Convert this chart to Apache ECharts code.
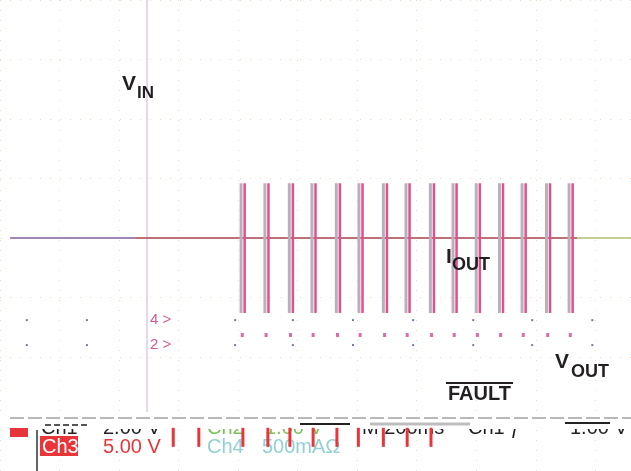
<!DOCTYPE html>
<html>
<head>
<meta charset="utf-8">
<script src="https://cdn.jsdelivr.net/npm/echarts@6/dist/echarts.min.js"></script>
<style>
    html, body {margin: 0; padding: 0; background: #fff;}
    #main {width: 631px; height: 471px;}
</style>
</head>
<body>
<div id="main"></div>
<script>
// screen units are scope divisions (1 div = 59.5 px), y counted down from the top edge
const pulseX = [4.05, 4.45, 4.86, 5.24, 5.65, 6.03, 6.44, 6.82, 7.23, 7.61, 8.00, 8.39, 8.77, 9.18, 9.56];
const pulseLevels = [3.08, 5.26];          // top / bottom of each output pulse
const outputLag = 0.06;                    // magenta trace sits just right of the grey one
const faultX = [2.91, 3.34, 4.08, 4.50, 4.87, 5.26, 5.66, 6.02, 6.44, 6.84, 7.24];
const faultLevels = [7.19, 7.51];
const faultDotLevel = 5.63;
const markX = [0.45, 1.46, 3.95, 4.92, 5.93, 6.94, 7.95, 8.94, 9.95];
const markLevels = [5.38, 5.80];
const vinX = 2.47;
const vinSpan = [0, 6.97];
const baseLevel = 4.0;
const baseSegments = [[0.17, 2.27], [2.27, 9.70], [9.70, 10.6]];

const chart = echarts.init(document.getElementById('main'));

function pulse(color, width) {
    return function (params, api) {
        const a = api.coord([api.value(0), api.value(1)]);
        const b = api.coord([api.value(0), api.value(2)]);
        return {
            type: 'line',
            shape: {x1: a[0], y1: a[1], x2: b[0], y2: b[1]},
            style: {stroke: color, lineWidth: width}
        };
    };
}

function segLine(seg, color) {
    return {
        type: 'line',
        data: [[seg[0], baseLevel], [seg[1], baseLevel]],
        symbol: 'none',
        lineStyle: {color: color, width: 1.5},
        silent: true,
        z: 3
    };
}

const grayData = pulseX.map(x => [x, pulseLevels[0], pulseLevels[1]]);
const pinkData = pulseX.map(x => [x + outputLag, pulseLevels[0], pulseLevels[1]]);
const faultData = faultX.map(x => [x, faultLevels[0], faultLevels[1]]);
const markData = [];
markLevels.forEach(y => markX.forEach(x => markData.push([x, y])));

const FONT = '"Liberation Sans", Arial, sans-serif';
function label(x, y, text, size) {
    return {
        type: 'text', x: x, y: y, z: 10,
        style: {text: text, font: 'bold ' + size + 'px ' + FONT, fill: '#231f20', verticalAlign: 'middle'}
    };
}
function status(x, y, text, color) {
    return {
        type: 'text', x: x, y: y, z: 5,
        style: {text: text, font: '20px ' + FONT, fill: color, verticalAlign: 'middle'}
    };
}

const option = {
    animation: false,
    backgroundColor: '#fff',
    grid: {left: 0, top: 0, right: 0, bottom: 0},
    xAxis: {
        type: 'value', min: 0, max: 10.6, interval: 1,
        axisLine: {show: false}, axisTick: {show: false}, axisLabel: {show: false},
        splitLine: {lineStyle: {color: '#f2d9bf', type: [1, 9], width: 1}}
    },
    yAxis: {
        type: 'value', min: 0, max: 7.916, interval: 1, inverse: true,
        axisLine: {show: false}, axisTick: {show: false}, axisLabel: {show: false},
        splitLine: {lineStyle: {color: '#f2d9bf', type: [1, 9], width: 1}}
    },
    series: [
        {
            type: 'line', data: [[vinX, vinSpan[0]], [vinX, vinSpan[1]]],
            symbol: 'none', lineStyle: {color: '#e8d6ee', width: 2}, silent: true
        },
        segLine(baseSegments[0], '#7f5f9c'),
        segLine(baseSegments[1], '#a8414c'),
        segLine(baseSegments[2], '#b4be72'),
        {type: 'custom', renderItem: pulse('#b9b0bd', 3), data: grayData, encode: {x: 0, y: [1, 2]}, z: 4},
        {type: 'custom', renderItem: pulse('#e2508b', 2.5), data: pinkData, encode: {x: 0, y: [1, 2]}, z: 5},
        {type: 'custom', renderItem: pulse('#e8353a', 3), data: faultData, encode: {x: 0, y: [1, 2]}, z: 6},
        {
            type: 'scatter', data: pulseX.map(x => [x + 0.02, faultDotLevel]),
            symbol: 'rect', symbolSize: [3, 4], itemStyle: {color: '#d2478e'}, silent: true
        },
        {
            type: 'scatter', data: markData,
            symbol: 'rect', symbolSize: [2, 2], itemStyle: {color: '#4a5a8a'}, silent: true
        }
    ],
    graphic: [
        // status bar blanking at the bottom of the screen
        {type: 'rect', shape: {x: 0, y: 412, width: 631, height: 17}, style: {fill: '#fff'}, z: 6},
        {type: 'line', shape: {x1: 10, y1: 418, x2: 631, y2: 418}, style: {stroke: '#b8b8b8', lineWidth: 2, lineDash: [14, 4]}, z: 7},
        {type: 'line', shape: {x1: 45, y1: 425, x2: 90, y2: 425}, style: {stroke: '#555', lineWidth: 2, lineDash: [6, 3]}, z: 7},
        {type: 'line', shape: {x1: 300, y1: 424, x2: 350, y2: 424}, style: {stroke: '#222', lineWidth: 2}, z: 7},
        {type: 'line', shape: {x1: 370, y1: 424, x2: 470, y2: 424}, style: {stroke: '#bdbdbd', lineWidth: 3}, z: 7},
        {type: 'line', shape: {x1: 565, y1: 423, x2: 610, y2: 423}, style: {stroke: '#222', lineWidth: 2}, z: 7},
        {type: 'line', shape: {x1: 37, y1: 430, x2: 37, y2: 471}, style: {stroke: '#333', lineWidth: 1.5}, z: 7},
        {type: 'rect', shape: {x: 10, y: 428, width: 18, height: 9}, style: {fill: '#e8353a'}, z: 7},
        status(41, 428, 'Ch1', '#231f20'),
        status(103, 428, '2.00 V', '#231f20'),
        status(207, 428, 'Ch2', '#7cc05a'),
        status(265, 428, '1.00 V', '#7cc05a'),
        status(362, 428, 'M 200ms', '#231f20'),
        status(468, 428, 'Ch1 \u0192', '#231f20'),
        status(570, 428, '1.00 V', '#231f20'),
        {type: 'rect', shape: {x: 0, y: 412, width: 631, height: 16}, style: {fill: '#fff'}, z: 6},
        {type: 'rect', shape: {x: 40, y: 436, width: 38, height: 20}, style: {fill: '#e8353a'}, z: 7},
        {
            type: 'text', x: 42, y: 447, z: 8,
            style: {text: 'Ch3', font: '20px ' + FONT, fill: '#fff', verticalAlign: 'middle'}
        },
        status(103, 447, '5.00 V', '#e8353a'),
        status(207, 447, 'Ch4', '#92d0d2'),
        status(262, 447, '500mA\u03a9', '#92d0d2'),
        // channel markers
        {type: 'text', x: 150, y: 320, z: 8, style: {text: '4 >', font: '15px ' + FONT, fill: '#cf5a92', verticalAlign: 'middle'}},
        {type: 'text', x: 150, y: 345, z: 8, style: {text: '2 >', font: '15px ' + FONT, fill: '#cf5a92', verticalAlign: 'middle'}},
        // trace labels
        label(122, 84, 'V', 21),
        label(137, 93, 'IN', 17),
        label(446, 257, 'I', 21),
        label(452, 265, 'OUT', 18),
        label(555, 362, 'V', 21),
        label(571, 372, 'OUT', 18),
        label(448, 394, 'FAULT', 20),
        {type: 'line', shape: {x1: 446, y1: 383, x2: 513, y2: 383}, style: {stroke: '#231f20', lineWidth: 2}, z: 10}
    ]
};

chart.setOption(option);
</script>
</body>
</html>
